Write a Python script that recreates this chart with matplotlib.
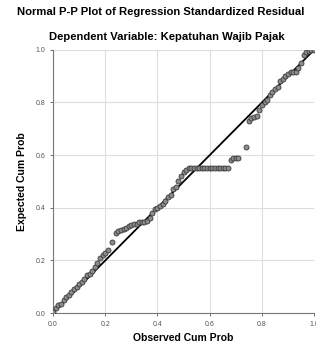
import matplotlib
matplotlib.use("Agg")
import matplotlib.pyplot as plt

# observed vs expected cumulative probability
OBSERVED = [
    0.00, 0.01, 0.02, 0.03, 0.04, 0.05, 0.06, 0.07, 0.08, 0.09,
    0.10, 0.11, 0.12, 0.13, 0.14, 0.15, 0.16, 0.17, 0.18, 0.19,
    0.20, 0.21, 0.225, 0.24, 0.25, 0.26, 0.27, 0.28, 0.29, 0.30,
    0.31, 0.32, 0.33, 0.34, 0.35, 0.36, 0.37, 0.38, 0.39, 0.40,
    0.41, 0.42, 0.43, 0.44, 0.45, 0.46, 0.47, 0.48, 0.49, 0.50,
    0.51, 0.52, 0.53, 0.54, 0.55, 0.56, 0.57, 0.58, 0.59, 0.60,
    0.61, 0.62, 0.63, 0.64, 0.65, 0.66, 0.67, 0.68, 0.69, 0.70,
    0.71, 0.74, 0.75, 0.76, 0.77, 0.78, 0.79, 0.80, 0.81, 0.82,
    0.83, 0.84, 0.85, 0.86, 0.87, 0.88, 0.89, 0.90, 0.91, 0.92,
    0.93, 0.94, 0.95, 0.96, 0.97, 0.98, 0.99, 1.00,
]
EXPECTED = [
    0.005, 0.02, 0.03, 0.035, 0.05, 0.06, 0.07, 0.08, 0.09, 0.10,
    0.11, 0.12, 0.13, 0.145, 0.15, 0.16, 0.175, 0.19, 0.21, 0.22,
    0.23, 0.24, 0.27, 0.305, 0.31, 0.315, 0.32, 0.325, 0.33, 0.335,
    0.34, 0.34, 0.345, 0.345, 0.345, 0.35, 0.36, 0.38, 0.395, 0.40,
    0.405, 0.415, 0.425, 0.44, 0.45, 0.47, 0.48, 0.50, 0.52, 0.535,
    0.545, 0.55, 0.55, 0.55, 0.55, 0.55, 0.55, 0.55, 0.55, 0.55,
    0.55, 0.55, 0.55, 0.55, 0.55, 0.55, 0.55, 0.58, 0.59, 0.59,
    0.59, 0.63, 0.73, 0.74, 0.745, 0.75, 0.77, 0.79, 0.80, 0.81,
    0.83, 0.84, 0.85, 0.86, 0.88, 0.89, 0.90, 0.91, 0.915, 0.915,
    0.915, 0.93, 0.95, 0.98, 0.99, 0.995, 1.00, 1.00,
]
TICKS = [0.0, 0.2, 0.4, 0.6, 0.8, 1.0]
TICK_LABELS = ["0.0", "0.2", "0.4", "0.6", "0.8", "1.0"]

plt.rcParams["font.family"] = ["Liberation Sans", "DejaVu Sans"]

fig = plt.figure(figsize=(3.16, 3.51), dpi=100)
ax = fig.add_axes([0.168, 0.108, 0.826, 0.750])

ax.plot([0, 1], [0, 1], color="black", linewidth=1.3, zorder=3)
ax.scatter(OBSERVED, EXPECTED, s=13, facecolor="#8c8c8c", edgecolor="#3a3a3a",
           linewidth=0.6, zorder=4)

ax.set_xlim(0, 1)
ax.set_ylim(0, 1)
ax.set_xticks(TICKS)
ax.set_xticklabels(TICK_LABELS)
ax.set_yticks(TICKS)
ax.set_yticklabels(TICK_LABELS)
ax.tick_params(labelsize=5, colors="#555555", length=2, width=0.6)
ax.grid(True, color="#dddddd", linewidth=0.8)
ax.set_axisbelow(True)
for side in ("top", "right"):
    ax.spines[side].set_visible(False)
for side in ("left", "bottom"):
    ax.spines[side].set_color("#777777")
    ax.spines[side].set_linewidth(0.8)

ax.set_xlabel("Observed Cum Prob", fontsize=7.5, fontweight="bold", labelpad=4)
ax.set_ylabel("Expected Cum Prob", fontsize=7.5, fontweight="bold", labelpad=6)

fig.text(0.51, 0.965, "Normal P-P Plot of Regression Standardized Residual",
         ha="center", va="center", fontsize=8.1, fontweight="bold")
fig.text(0.527, 0.895, "Dependent Variable: Kepatuhan Wajib Pajak",
         ha="center", va="center", fontsize=8.1, fontweight="bold")

fig.savefig("out.png", dpi=100)
